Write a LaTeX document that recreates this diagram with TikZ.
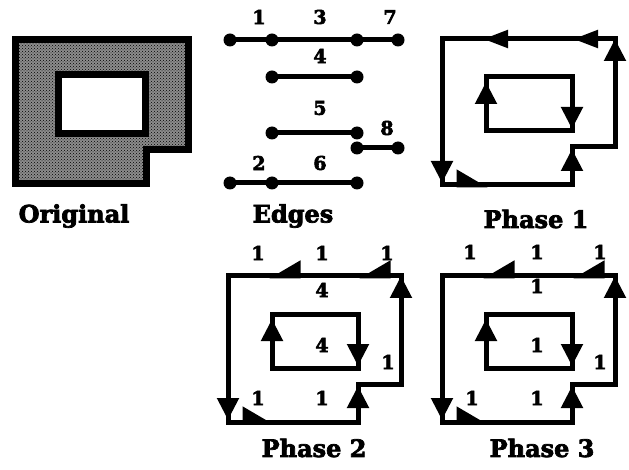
\documentclass[tikz,border=0pt]{standalone}
\usepackage{fontspec}
\setmainfont{DejaVu Serif}
\newfontfamily\heavyfont{DejaVu Serif}[UprightFont={* Bold},UprightFeatures={FakeBold=3}]
\usetikzlibrary{arrows.meta,patterns}

\tikzset{
  edge/.style={line width=5pt},
  loopline/.style={line width=5pt},
  head/.style={line width=5pt,-{Triangle[length=22pt,width=21pt]}},
  flathead/.style={line width=5pt,-{Triangle[length=25pt,width=17pt]}},
  halfup/.style={line width=5pt,-{Triangle[length=27pt,width=30pt,harpoon]}},
  halfdown/.style={line width=5pt,-{Triangle[length=27pt,width=30pt,harpoon,swap]}},
  num/.style={font=\fontsize{19}{19}\heavyfont,inner sep=0pt},
  caption/.style={font=\fontsize{24}{24}\heavyfont,inner sep=0pt},
}

% outer loop, hole and the arrow heads of one phase
\newcommand{\drawloops}[1]{%
  \coordinate (tl) at (0,0);
  \coordinate (tr) at (173,0);
  \coordinate (nr) at (173,108);
  \coordinate (nc) at (130,108);
  \coordinate (br) at (130,146);
  \coordinate (bl) at (0,146);
  \coordinate (il) at (44,38);
  \coordinate (ir) at (130,92);
  \draw[loopline] (tl) -- (tr) -- (nr) -- (nc) -- (br) -- (bl) -- cycle;
  \draw[loopline] (il) rectangle (ir);
  \draw[#1] (75,0) -- (41,0);
  \draw[#1] (165,0) -- (131,0);
  \draw[head] (173,30) -- (tr);
  \draw[head] (0,110) -- (0,144);
  \draw[halfup] (8,146) -- (46,146);
  \draw[head] (130,140) -- (130,110);
  \draw[head] (44,76) -- (44,43);
  \draw[head] (130,56) -- (130,90);
}

\begin{document}
\begin{tikzpicture}[x=1pt,y=-1pt]
  \useasboundingbox (0,0) rectangle (629,470);

  % original region
  \coordinate (o1) at (15,40);
  \coordinate (o2) at (188,40);
  \coordinate (o3) at (188,150);
  \coordinate (o4) at (146,150);
  \coordinate (o5) at (146,184);
  \coordinate (o6) at (15,184);
  \fill[black!45] (o1) -- (o2) -- (o3) -- (o4) -- (o5) -- (o6) -- cycle;
  \fill[pattern=crosshatch dots,pattern color=black] (o1) -- (o2) -- (o3) -- (o4) -- (o5) -- (o6) -- cycle;
  \draw[line width=7pt] (o1) -- (o2) -- (o3) -- (o4) -- (o5) -- (o6) -- cycle;
  \filldraw[fill=white,line width=7pt] (58.5,75) rectangle (145,133.5);
  \node[caption] (orig) at (74,216) {Original};

  % edges
  \coordinate (e1) at (230,40);
  \coordinate (e2) at (272,40);
  \coordinate (e3) at (357,40);
  \coordinate (e4) at (398,40);
  \coordinate (f1) at (272,77);
  \coordinate (f2) at (357,77);
  \coordinate (g1) at (272,133);
  \coordinate (g2) at (357,133);
  \coordinate (h1) at (357,148);
  \coordinate (h2) at (398,148);
  \coordinate (k1) at (230,183);
  \coordinate (k2) at (272,183);
  \coordinate (k3) at (357,183);
  \draw[edge] (e1) -- (e4);
  \draw[edge] (f1) -- (f2);
  \draw[edge] (g1) -- (g2);
  \draw[edge] (h1) -- (h2);
  \draw[edge] (k1) -- (k3);
  \foreach \p in {e1,e2,e3,e4,f1,f2,g1,g2,h1,h2,k1,k2,k3}
    \fill (\p) circle (6.5);
  \node[num] (n1) at (259,17) {1};
  \node[num] (n3) at (320,17) {3};
  \node[num] (n7) at (390,17) {7};
  \node[num] (n4) at (320,56) {4};
  \node[num] (n5) at (320,108) {5};
  \node[num] (n8) at (387,128) {8};
  \node[num] (n2) at (259,163) {2};
  \node[num] (n6) at (320,163) {6};
  \node[caption] (edg) at (293,216) {Edges};

  % phase 1
  \begin{scope}[shift={(442,39)}]
    \drawloops{flathead}
  \end{scope}
  \node[caption] (ph1) at (536,219) {Phase 1};

  % phase 2
  \begin{scope}[shift={(228,276)}]
    \drawloops{halfdown}
    \node[num] (a1) at (30,-23) {1};
    \node[num] (a2) at (94,-23) {1};
    \node[num] (a3) at (159,-23) {1};
    \node[num] (a4) at (94,14) {4};
    \node[num] (a5) at (94,69) {4};
    \node[num] (a6) at (160,86) {1};
    \node[num] (a7) at (30,122) {1};
    \node[num] (a8) at (94,122) {1};
  \end{scope}
  \node[caption] (ph2) at (314,448) {Phase 2};

  % phase 3
  \begin{scope}[shift={(442,276)}]
    \drawloops{halfdown}
    \node[num] (b1) at (28,-24) {1};
    \node[num] (b2) at (95,-24) {1};
    \node[num] (b3) at (158,-24) {1};
    \node[num] (b4) at (95,10) {1};
    \node[num] (b5) at (95,69) {1};
    \node[num] (b6) at (158,86) {1};
    \node[num] (b7) at (30,122) {1};
    \node[num] (b8) at (95,122) {1};
  \end{scope}
  \node[caption] (ph3) at (542,448) {Phase 3};
\end{tikzpicture}
\end{document}
